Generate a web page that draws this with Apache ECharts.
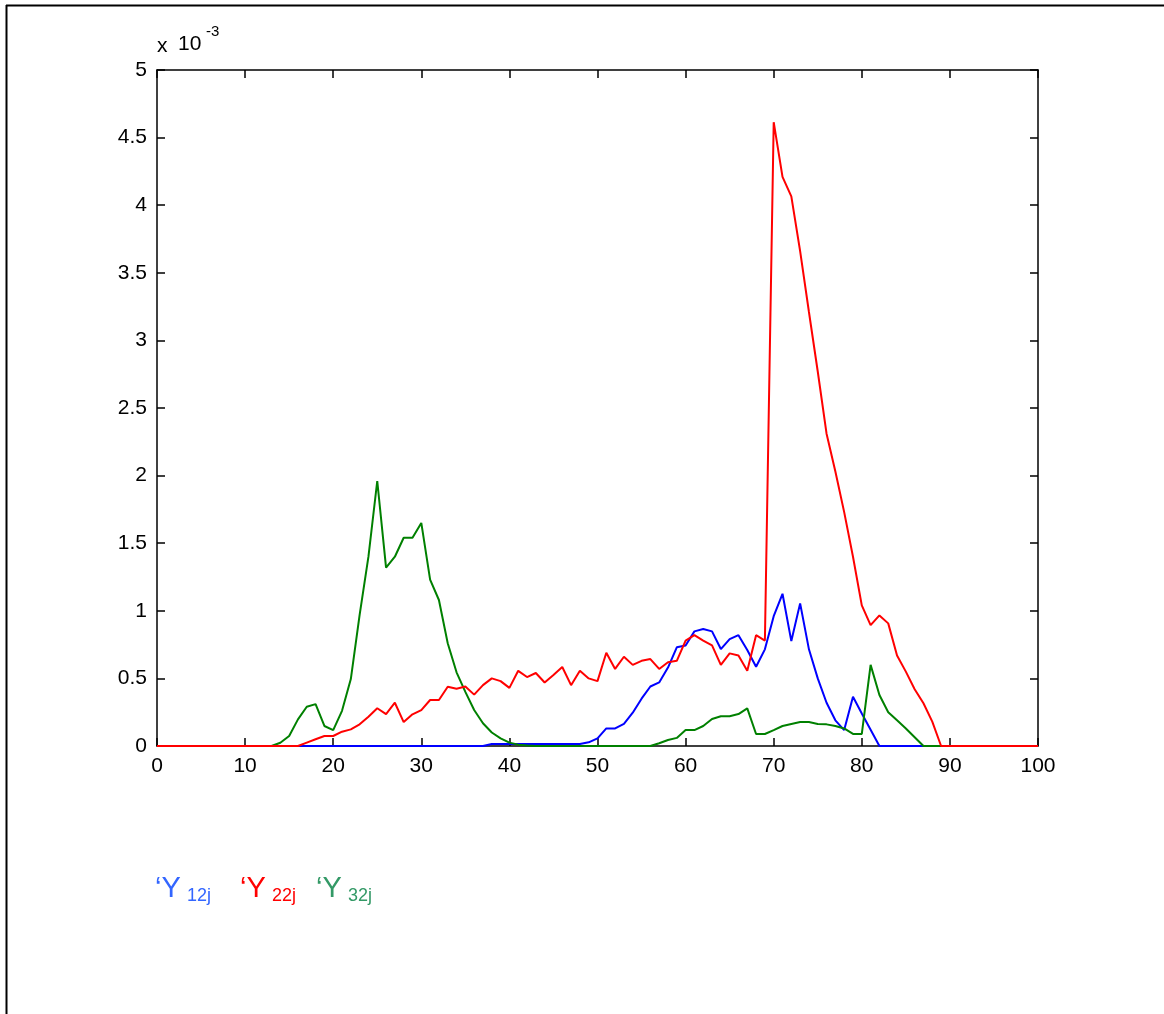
<!DOCTYPE html>
<html>
<head>
<meta charset="utf-8">
<script src="https://cdn.jsdelivr.net/npm/echarts@6/dist/echarts.min.js"></script>
<style>
  html, body { margin: 0; padding: 0; background: #ffffff; }
  #chart { width: 1164px; height: 1014px; }
</style>
</head>
<body>
<div id="chart"></div>
<script>
// Sample positions along the horizontal axis
const xValues = [
  0, 1, 2, 3, 4, 5, 6, 7, 8, 9,
  10, 11, 12, 13, 14, 15, 16, 17, 18, 19,
  20, 21, 22, 23, 24, 25, 26, 27, 28, 29,
  30, 31, 32, 33, 34, 35, 36, 37, 38, 39,
  40, 41, 42, 43, 44, 45, 46, 47, 48, 49,
  50, 51, 52, 53, 54, 55, 56, 57, 58, 59,
  60, 61, 62, 63, 64, 65, 66, 67, 68, 69,
  70, 71, 72, 73, 74, 75, 76, 77, 78, 79,
  80, 81, 82, 83, 84, 85, 86, 87, 88, 89,
  90, 91, 92, 93, 94, 95, 96, 97, 98, 99,
  100
];

// Values in units of 1e-3
const y12j = [
  0, 0, 0, 0, 0, 0, 0, 0, 0, 0,
  0, 0, 0, 0, 0, 0, 0, 0, 0, 0,
  0, 0, 0, 0, 0, 0, 0, 0, 0, 0,
  0, 0, 0, 0, 0, 0, 0, 0, 0.015, 0.015,
  0.015, 0.015, 0.015, 0.015, 0.015, 0.015, 0.015, 0.015, 0.015, 0.027,
  0.057, 0.13, 0.13, 0.163, 0.246, 0.35, 0.44, 0.47, 0.58, 0.73,
  0.744, 0.848, 0.865, 0.848, 0.717, 0.79, 0.82, 0.71, 0.586, 0.715,
  0.96, 1.126, 0.776, 1.055, 0.715, 0.50, 0.32, 0.19, 0.118, 0.364,
  0.24, 0.12, 0, 0, 0, 0, 0, 0, 0, 0,
  0, 0, 0, 0, 0, 0, 0, 0, 0, 0,
  0
];

const y22j = [
  0, 0, 0, 0, 0, 0, 0, 0, 0, 0,
  0, 0, 0, 0, 0, 0, 0, 0.025, 0.05, 0.074,
  0.074, 0.106, 0.123, 0.16, 0.217, 0.279, 0.236, 0.32, 0.177, 0.234,
  0.266, 0.34, 0.34, 0.438, 0.424, 0.44, 0.38, 0.45, 0.50, 0.48,
  0.43, 0.556, 0.51, 0.54, 0.47, 0.525, 0.584, 0.45, 0.556, 0.50,
  0.48, 0.69, 0.57, 0.66, 0.60, 0.63, 0.643, 0.57, 0.62, 0.63,
  0.78, 0.82, 0.78, 0.744, 0.60, 0.685, 0.67, 0.556, 0.82, 0.78,
  4.614, 4.21, 4.065, 3.66, 3.21, 2.77, 2.31, 2.03, 1.73, 1.40,
  1.04, 0.894, 0.966, 0.907, 0.67, 0.55, 0.42, 0.316, 0.18, 0,
  0, 0, 0, 0, 0, 0, 0, 0, 0, 0,
  0
];

const y32j = [
  0, 0, 0, 0, 0, 0, 0, 0, 0, 0,
  0, 0, 0, 0, 0.024, 0.074, 0.197, 0.29, 0.31, 0.148,
  0.118, 0.26, 0.495, 0.97, 1.40, 1.96, 1.32, 1.40, 1.54, 1.54,
  1.65, 1.23, 1.08, 0.76, 0.545, 0.40, 0.266, 0.168, 0.10, 0.057,
  0.025, 0.01, 0.004, 0, 0, 0, 0, 0, 0, 0,
  0, 0, 0, 0, 0, 0, 0, 0.02, 0.044, 0.06,
  0.118, 0.118, 0.148, 0.20, 0.22, 0.22, 0.236, 0.278, 0.089, 0.089,
  0.118, 0.148, 0.163, 0.177, 0.177, 0.163, 0.16, 0.148, 0.13, 0.089,
  0.089, 0.60, 0.377, 0.25, 0.19, 0.13, 0.065, 0, 0, 0,
  0, 0, 0, 0, 0, 0, 0, 0, 0, 0,
  0
];

// Legend entries: prefix, subscript
const legendMain = ['\u2018Y', '\u2018Y', '\u2018Y'];
const legendSub = ['12j', '22j', '32j'];
const legendColors = ['#3366ff', '#ff0000', '#339966'];
const legendX = [155, 240, 316];

const FONT = '"Liberation Sans", Arial, sans-serif';

const toPairs = arr => xValues.map((x, i) => [x, arr[i]]);

const chart = echarts.init(document.getElementById('chart'), null, { renderer: 'canvas' });

const axisLineStyle = { color: '#000', width: 1.5 };

const legendGraphics = [];
legendMain.forEach((t, i) => {
  legendGraphics.push({
    type: 'text', left: legendX[i], top: 874,
    style: { text: t, fontSize: 29, fontFamily: FONT, fill: legendColors[i] }
  });
  legendGraphics.push({
    type: 'text', left: legendX[i] + 32, top: 887,
    style: { text: legendSub[i], fontSize: 18, fontFamily: FONT, fill: legendColors[i] }
  });
});

const option = {
  backgroundColor: '#ffffff',
  animation: false,
  grid: { left: 157, right: 126, top: 70, bottom: 268, containLabel: false },
  xAxis: [
    {
      type: 'value', min: 0, max: 100, interval: 10, position: 'bottom',
      axisLine: { show: true, onZero: false, lineStyle: axisLineStyle },
      axisTick: { show: true, inside: true, length: 8, lineStyle: axisLineStyle },
      axisLabel: { show: true, margin: 10, color: '#000', fontSize: 21, fontFamily: FONT },
      splitLine: { show: false }
    },
    {
      type: 'value', min: 0, max: 100, interval: 10, position: 'top',
      axisLine: { show: true, onZero: false, lineStyle: axisLineStyle },
      axisTick: { show: true, inside: true, length: 8, lineStyle: axisLineStyle },
      axisLabel: { show: false },
      splitLine: { show: false }
    }
  ],
  yAxis: [
    {
      type: 'value', min: 0, max: 5, interval: 0.5, position: 'left',
      axisLine: { show: true, onZero: false, lineStyle: axisLineStyle },
      axisTick: { show: true, inside: true, length: 8, lineStyle: axisLineStyle },
      axisLabel: { show: true, margin: 10, color: '#000', fontSize: 21, fontFamily: FONT },
      splitLine: { show: false }
    },
    {
      type: 'value', min: 0, max: 5, interval: 0.5, position: 'right',
      axisLine: { show: true, onZero: false, lineStyle: axisLineStyle },
      axisTick: { show: true, inside: true, length: 8, lineStyle: axisLineStyle },
      axisLabel: { show: false },
      splitLine: { show: false }
    }
  ],
  series: [
    {
      name: 'Y12j', type: 'line', xAxisIndex: 0, yAxisIndex: 0,
      data: toPairs(y12j), showSymbol: false, symbol: 'none',
      lineStyle: { color: '#0000ff', width: 2 }, z: 2
    },
    {
      name: 'Y32j', type: 'line', xAxisIndex: 0, yAxisIndex: 0,
      data: toPairs(y32j), showSymbol: false, symbol: 'none',
      lineStyle: { color: '#008000', width: 2 }, z: 3
    },
    {
      name: 'Y22j', type: 'line', xAxisIndex: 0, yAxisIndex: 0,
      data: toPairs(y22j), showSymbol: false, symbol: 'none',
      lineStyle: { color: '#ff0000', width: 2 }, z: 4
    }
  ],
  graphic: [
    // figure frame edges
    { type: 'line', shape: { x1: 6, y1: 5.5, x2: 1164, y2: 5.5 }, style: { stroke: '#000', lineWidth: 2 } },
    { type: 'line', shape: { x1: 6.5, y1: 5, x2: 6.5, y2: 1014 }, style: { stroke: '#000', lineWidth: 2 } },
    // exponent annotation for the vertical axis
    { type: 'text', left: 157, top: 36, style: { text: 'x', fontSize: 21, fontFamily: FONT, fill: '#000' } },
    { type: 'text', left: 178, top: 34, style: { text: '10', fontSize: 21, fontFamily: FONT, fill: '#000' } },
    { type: 'text', left: 206, top: 24, style: { text: '-3', fontSize: 15, fontFamily: FONT, fill: '#000' } }
  ].concat(legendGraphics)
};

chart.setOption(option);
</script>
</body>
</html>
